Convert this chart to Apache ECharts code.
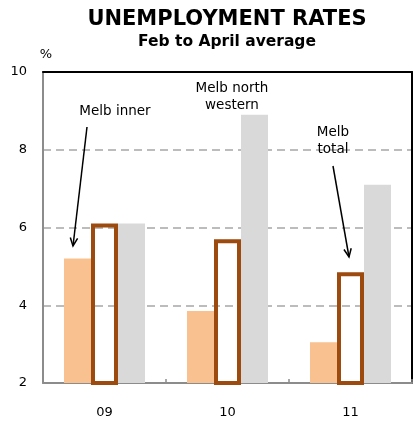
<!DOCTYPE html>
<html>
<head>
<meta charset="utf-8">
<script src="https://cdn.jsdelivr.net/npm/echarts@6/dist/echarts.min.js"></script>
<style>
  html, body { margin: 0; padding: 0; background: #fff; }
  #chart { width: 416px; height: 424px; }
</style>
</head>
<body>
<div id="chart"></div>
<script>
// ---- data ----
const categories = ['09', '10', '11'];
const melbInner = [5.2, 3.85, 3.05];
const melbTotal = [6.1, 5.7, 4.85];
const melbNorthWestern = [6.1, 8.9, 7.1];
const yMin = 2, yMax = 10, yStep = 2;

const FONT = 'DejaVu Sans';
const chart = echarts.init(document.getElementById('chart'), null, { renderer: 'canvas' });

function arrow(x1, y1, x2, y2) {
  const ang = Math.atan2(y2 - y1, x2 - x1);
  const L = 9, spread = 0.42;
  const a1 = ang + Math.PI - spread, a2 = ang + Math.PI + spread;
  const style = { stroke: '#000', lineWidth: 1.5 };
  return [
    { type: 'line', shape: { x1, y1, x2, y2 }, style, z: 100 },
    { type: 'polyline', shape: { points: [
      [x2 + L * Math.cos(a1), y2 + L * Math.sin(a1)], [x2, y2],
      [x2 + L * Math.cos(a2), y2 + L * Math.sin(a2)]] }, style, z: 100 }
  ];
}

function label(text, x, y) {
  return { type: 'text', x, y, z: 100, style: {
    text, font: '13.5px "' + FONT + '"', fill: '#000', align: 'center', verticalAlign: 'middle'
  } };
}

const option = {
  animation: false,
  title: [
    { text: 'UNEMPLOYMENT RATES', left: 227, top: 8, textAlign: 'center', padding: 0,
      textStyle: { fontFamily: FONT, fontSize: 21, fontWeight: 'bold', color: '#000', lineHeight: 24 } },
    { text: 'Feb to April average', left: 227, top: 32, textAlign: 'center', padding: 0,
      textStyle: { fontFamily: FONT, fontSize: 15.5, fontWeight: 'bold', color: '#000', lineHeight: 20 } }
  ],
  grid: { left: 43, right: 4, top: 72, bottom: 41, containLabel: false },
  xAxis: [
    { type: 'category', data: categories, position: 'bottom',
      axisLine: { lineStyle: { color: '#8c8c8c', width: 2 } },
      axisTick: { show: true, inside: true, length: 4, lineStyle: { color: '#8c8c8c', width: 1.5 } },
      axisLabel: { fontFamily: FONT, fontSize: 13, color: '#000', margin: 23 } },
    { type: 'category', data: categories, position: 'top',
      axisLine: { lineStyle: { color: '#000', width: 2 } },
      axisTick: { show: false }, axisLabel: { show: false } }
  ],
  yAxis: [
    { type: 'value', min: yMin, max: yMax, interval: yStep, position: 'left',
      name: '%', nameLocation: 'end', nameGap: 11,
      nameTextStyle: { fontFamily: FONT, fontSize: 13, color: '#000', padding: [0, 0, 0, 6] },
      axisLine: { show: true, lineStyle: { color: '#8c8c8c', width: 2 } },
      axisTick: { show: false },
      axisLabel: { fontFamily: FONT, fontSize: 13, color: '#000', margin: 16 },
      splitLine: { show: true, lineStyle: { color: '#a6a6a6', width: 1.5, type: [8, 5] } } },
    { type: 'value', min: yMin, max: yMax, interval: yStep, position: 'right',
      axisLine: { show: true, lineStyle: { color: '#000', width: 2 } },
      axisTick: { show: false }, axisLabel: { show: false }, splitLine: { show: false } }
  ],
  series: [
    { name: 'Melb inner', type: 'bar', data: melbInner, barWidth: 27, barGap: '0%',
      itemStyle: { color: '#f9c18f' } },
    { name: 'Melb total', type: 'bar', data: melbTotal, barWidth: 27, barGap: '0%',
      itemStyle: { color: 'rgba(0,0,0,0)', borderColor: '#9c4a0e', borderWidth: 4 } },
    { name: 'Melb north western', type: 'bar', data: melbNorthWestern, barWidth: 27, barGap: '0%',
      itemStyle: { color: '#d9d9d9' } }
  ],
  graphic: [
    label('Melb inner', 115, 111),
    label('Melb north', 232, 88),
    label('western', 232, 105),
    label('Melb', 333, 132),
    label('total', 333, 149),
    ...arrow(87, 127, 73, 246),
    ...arrow(333, 166, 349, 257)
  ]
};
chart.setOption(option);
</script>
</body>
</html>
